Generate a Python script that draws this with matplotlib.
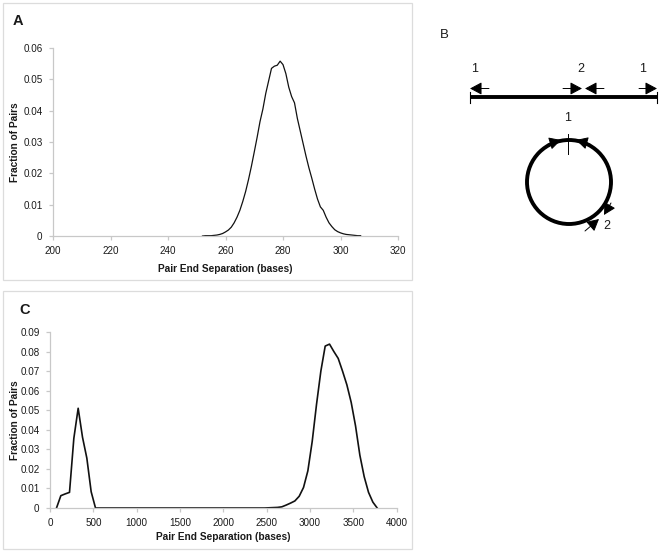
import numpy as np
import matplotlib
matplotlib.use("Agg")
import matplotlib.pyplot as plt
from matplotlib.patches import Rectangle, Circle

plt.rcParams['font.family'] = ['Liberation Sans', 'DejaVu Sans']

# ---------------- Data ----------------
# Panel A: pair end separation (bases) vs fraction of pairs
a_sep = list(range(252, 308))
a_frac = [0.0, 0.0001, 0.0001, 0.0001, 0.0002, 0.0003, 0.0005, 0.0008,
          0.0013, 0.0019, 0.0028, 0.0042, 0.0060, 0.0082, 0.0110, 0.0142,
          0.0180, 0.0222, 0.0268, 0.0315, 0.0365, 0.0405, 0.0455, 0.0495,
          0.0535, 0.0542, 0.0545, 0.0558, 0.0547, 0.0518, 0.0475, 0.0445,
          0.0425, 0.0375, 0.0335, 0.0295, 0.0255, 0.0218, 0.0185, 0.0150,
          0.0118, 0.0093, 0.0082, 0.0060, 0.0042, 0.0030, 0.0020, 0.0014,
          0.0010, 0.0007, 0.0005, 0.0004, 0.0003, 0.0002, 0.0001, 0.0001]

# Panel C: bin centres (bases) and fraction of pairs
c_sep = list(range(75, 3800, 50))
c_frac = [0.0, 0.0063, 0.0072, 0.0080, 0.0356, 0.0510, 0.0362, 0.0255,
          0.0083,
          0.0, 0.0, 0.0, 0.0, 0.0, 0.0, 0.0, 0.0, 0.0, 0.0,
          0.0, 0.0, 0.0, 0.0, 0.0, 0.0, 0.0, 0.0, 0.0, 0.0,
          0.0, 0.0, 0.0, 0.0, 0.0, 0.0, 0.0, 0.0, 0.0, 0.0,
          0.0, 0.0, 0.0, 0.0, 0.0, 0.0, 0.0, 0.0, 0.0, 0.0,
          0.0001, 0.0002, 0.0003, 0.0006, 0.0015, 0.0025, 0.0036, 0.0060,
          0.0105, 0.0190, 0.0340, 0.0530, 0.0700, 0.0828, 0.0838, 0.0800,
          0.0765, 0.0700, 0.0630, 0.0540, 0.0420, 0.0270, 0.0160, 0.0080,
          0.0030, 0.0]

a_xticks = [200, 220, 240, 260, 280, 300, 320]
a_yticks = [0, 0.01, 0.02, 0.03, 0.04, 0.05, 0.06]
a_yticklabels = ['0', '0.01', '0.02', '0.03', '0.04', '0.05', '0.06']
c_xticks = [0, 500, 1000, 1500, 2000, 2500, 3000, 3500, 4000]
c_yticks = [0, 0.01, 0.02, 0.03, 0.04, 0.05, 0.06, 0.07, 0.08, 0.09]
c_yticklabels = ['0', '0.01', '0.02', '0.03', '0.04', '0.05', '0.06',
                 '0.07', '0.08', '0.09']
x_label = 'Pair End Separation (bases)'
y_label = 'Fraction of Pairs'

# ---------------- Figure ----------------
W, H = 661, 553
fig = plt.figure(figsize=(W / 100, H / 100), dpi=100)

GRID = '#c8c8c8'
TXT = '#1a1a1a'


def style(ax):
    for s in ['top', 'right']:
        ax.spines[s].set_visible(False)
    for s in ['left', 'bottom']:
        ax.spines[s].set_color(GRID)
        ax.spines[s].set_linewidth(0.9)
    ax.tick_params(axis='both', colors=GRID, labelcolor=TXT, length=3,
                   width=0.9, labelsize=7.1)
    ax.tick_params(axis='y', pad=4.5)
    ax.tick_params(axis='x', pad=4.5)
    ax.patch.set_alpha(0)


# overlay axes in pixel coordinates (for panel frames and schematic B)
ov = fig.add_axes([0, 0, 1, 1], zorder=0)
ov.set_xlim(0, W)
ov.set_ylim(H, 0)
ov.axis('off')

ov.add_patch(Rectangle((3, 3), 409, 277, fill=False, ec='#dcdcdc', lw=0.9))
ov.add_patch(Rectangle((3, 291), 409, 258, fill=False, ec='#dcdcdc', lw=0.9))

# Panel A
axA = fig.add_axes([53 / W, 1 - 236 / H, 345 / W, 188 / H], zorder=2)
axA.plot(a_sep, a_frac, color='#111111', lw=0.9)
axA.set_xlim(200, 320)
axA.set_ylim(0, 0.06)
axA.set_xticks(a_xticks)
axA.set_yticks(a_yticks)
axA.set_yticklabels(a_yticklabels)
style(axA)
axA.set_xlabel(x_label, fontsize=7.3, fontweight='bold', color=TXT)
axA.set_ylabel(y_label, fontsize=7.3, fontweight='bold', color=TXT)
axA.xaxis.set_label_coords(0.5, -27.5 / 188)
axA.yaxis.set_label_coords(-33 / 345, 0.5)

# Panel C
axC = fig.add_axes([50 / W, 1 - 508 / H, 346.7 / W, 176 / H], zorder=2)
axC.plot(c_sep, c_frac, color='#111111', lw=1.2)
axC.set_xlim(0, 4000)
axC.set_ylim(0, 0.09)
axC.set_xticks(c_xticks)
axC.set_yticks(c_yticks)
axC.set_yticklabels(c_yticklabels)
style(axC)
axC.set_xlabel(x_label, fontsize=7.3, fontweight='bold', color=TXT)
axC.set_ylabel(y_label, fontsize=7.3, fontweight='bold', color=TXT)
axC.xaxis.set_label_coords(0.5, -23.5 / 176)
axC.yaxis.set_label_coords(-30 / 346.7, 0.5)

# Panel letters
ov.text(13, 21, 'A', fontsize=10.5, fontweight='bold', ha='left', va='center', color=TXT)
ov.text(19, 310, 'C', fontsize=10.5, fontweight='bold', ha='left', va='center', color=TXT)
ov.text(440, 35, 'B', fontsize=9.5, ha='left', va='center', color=TXT)

# ---------------- Schematic B ----------------
lin_y = 97
ov.plot([470, 657], [lin_y, lin_y], color='black', lw=2.8, solid_capstyle='butt')
for xe in (470, 657):
    ov.plot([xe, xe], [lin_y - 5, lin_y + 6], color='black', lw=0.8)

arr = dict(arrowstyle='-|>,head_length=0.6,head_width=0.32', color='black',
           lw=0.7, shrinkA=0, shrinkB=0, mutation_scale=12)
ay = 88.5
for (x0, x1) in [(489, 470), (563, 582), (604, 585), (639, 657)]:
    ov.annotate('', xy=(x1, ay), xytext=(x0, ay), arrowprops=arr)

for (tx, lab) in [(475, '1'), (581, '2'), (643, '1')]:
    ov.text(tx, 69, lab, fontsize=9, ha='center', va='center', color=TXT)

# circle
ov.add_patch(Circle((569, 182), 42, fill=False, ec='black', lw=2.8))
ov.plot([568, 568], [134, 154], color='black', lw=0.7)
ov.text(568, 118, '1', fontsize=9, ha='center', va='center', color=TXT)
ov.annotate('', xy=(561, 140), xytext=(548, 144), arrowprops=arr)
ov.annotate('', xy=(576, 140), xytext=(590, 144), arrowprops=arr)
ov.annotate('', xy=(604, 215), xytext=(611, 203), arrowprops=arr)
ov.annotate('', xy=(599, 219), xytext=(585, 231), arrowprops=arr)
ov.text(607, 226, '2', fontsize=9, ha='center', va='center', color=TXT)

fig.savefig('out.png', dpi=100)
